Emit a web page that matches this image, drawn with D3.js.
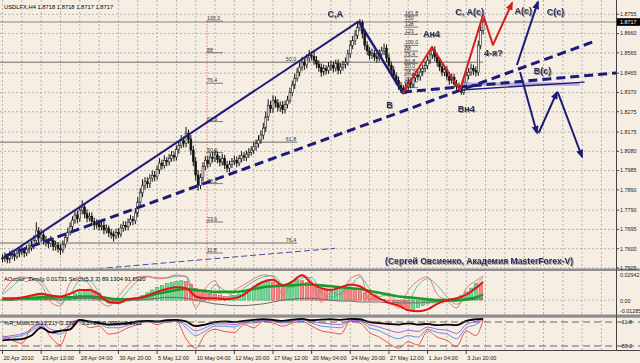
<!DOCTYPE html>
<html>
<head>
<meta charset="utf-8">
<style>
body{margin:0;background:#f6eee2;}
svg{display:block;font-family:"Liberation Sans",Arial,sans-serif;}
</style>
</head>
<body>
<script src="https://cdn.jsdelivr.net/npm/d3@7"></script>
<script>
var width = 640, height = 363;

// USDLFX H4 bars, 20 Apr 2010 20:00 .. 4 Jun 2010 20:00
var open = [
 1.7550,1.7554,1.7560,1.7548,1.7566,1.7571,1.7562,1.7578,1.7584,1.7590,
 1.7579,1.7598,1.7603,1.7615,1.7640,1.7688,1.7653,1.7668,1.7642,1.7633,
 1.7625,1.7640,1.7612,1.7618,1.7601,1.7594,1.7622,1.7655,1.7682,1.7710,
 1.7741,1.7766,1.7748,1.7790,1.7805,1.7772,1.7751,1.7760,1.7735,1.7717,
 1.7726,1.7708,1.7715,1.7692,1.7700,1.7678,1.7670,1.7662,1.7681,1.7672,
 1.7702,1.7715,1.7708,1.7731,1.7745,1.7738,1.7776,1.7830,1.7875,1.7913,
 1.7930,1.7920,1.7948,1.7962,1.7955,1.7990,1.8022,1.8010,1.8035,1.8028,
 1.8046,1.8060,1.8052,1.8088,1.8110,1.8132,1.8120,1.8169,1.8140,1.8086,
 1.8030,1.7963,1.7913,1.7950,1.8005,1.8036,1.8020,1.8051,1.8046,1.8062,
 1.8040,1.8027,1.8045,1.8012,1.7997,1.8015,1.8030,1.8036,1.8022,1.8044,
 1.8058,1.8051,1.8066,1.8074,1.8086,1.8102,1.8118,1.8135,1.8160,1.8194,
 1.8250,1.8307,1.8290,1.8332,1.8318,1.8296,1.8307,1.8285,1.8310,1.8332,
 1.8370,1.8406,1.8440,1.8470,1.8495,1.8519,1.8505,1.8540,1.8553,1.8548,
 1.8529,1.8510,1.8492,1.8470,1.8488,1.8478,1.8496,1.8504,1.8490,1.8512,
 1.8480,1.8495,1.8508,1.8519,1.8560,1.8602,1.8625,1.8652,1.8690,1.8716,
 1.8660,1.8602,1.8575,1.8553,1.8562,1.8545,1.8538,1.8560,1.8575,1.8588,
 1.8540,1.8504,1.8480,1.8452,1.8430,1.8405,1.8391,1.8366,1.8398,1.8420,
 1.8410,1.8442,1.8455,1.8448,1.8470,1.8489,1.8502,1.8529,1.8555,1.8578,
 1.8545,1.8519,1.8496,1.8470,1.8482,1.8450,1.8430,1.8445,1.8412,1.8400,
 1.8391,1.8371,1.8420,1.8455,1.8470,1.8489,1.8478,1.8470,1.8602,1.8676];
var high = [
 1.7572,1.7582,1.7574,1.7590,1.7594,1.7586,1.7601,1.7604,1.7613,1.7605,
 1.7618,1.7624,1.7641,1.7666,1.7730,1.7707,1.7696,1.7683,1.7663,1.7652,
 1.7663,1.7655,1.7639,1.7633,1.7623,1.7641,1.7678,1.7703,1.7731,1.7760,
 1.7793,1.7787,1.7809,1.7838,1.7822,1.7794,1.7779,1.7779,1.7753,1.7745,
 1.7744,1.7733,1.7734,1.7720,1.7715,1.7698,1.7688,1.7699,1.7702,1.7721,
 1.7736,1.7735,1.7750,1.7766,1.7761,1.7801,1.7854,1.7898,1.7942,1.7953,
 1.7952,1.7967,1.7985,1.7983,1.8009,1.8046,1.8039,1.8060,1.8051,1.8067,
 1.8081,1.8080,1.8108,1.8131,1.8160,1.8153,1.8200,1.8187,1.8160,1.8108,
 1.8051,1.7988,1.7970,1.8026,1.8056,1.8059,1.8070,1.8075,1.8087,1.8080,
 1.8057,1.8067,1.8062,1.8033,1.8034,1.8047,1.8059,1.8054,1.8062,1.8080,
 1.8076,1.8084,1.8096,1.8105,1.8124,1.8138,1.8159,1.8183,1.8220,1.8276,
 1.8336,1.8329,1.8356,1.8351,1.8338,1.8326,1.8328,1.8330,1.8353,1.8393,
 1.8427,1.8463,1.8491,1.8517,1.8545,1.8538,1.8559,1.8580,1.8573,1.8571,
 1.8549,1.8528,1.8513,1.8508,1.8504,1.8519,1.8526,1.8523,1.8531,1.8533,
 1.8515,1.8526,1.8542,1.8581,1.8627,1.8648,1.8677,1.8713,1.8732,1.8727,
 1.8682,1.8623,1.8594,1.8586,1.8579,1.8564,1.8583,1.8595,1.8611,1.8606,
 1.8560,1.8522,1.8499,1.8469,1.8448,1.8422,1.8405,1.8417,1.8441,1.8437,
 1.8463,1.8475,1.8476,1.8490,1.8507,1.8524,1.8549,1.8575,1.8598,1.8597,
 1.8563,1.8539,1.8513,1.8503,1.8500,1.8471,1.8463,1.8462,1.8432,1.8418,
 1.8406,1.8440,1.8476,1.8490,1.8512,1.8507,1.8499,1.8626,1.8700,1.8734];
var low = [
 1.7532,1.7535,1.7528,1.7529,1.7548,1.7540,1.7549,1.7558,1.7567,1.7557,
 1.7563,1.7577,1.7588,1.7598,1.7625,1.7627,1.7633,1.7620,1.7611,1.7603,
 1.7608,1.7590,1.7591,1.7581,1.7569,1.7579,1.7605,1.7635,1.7666,1.7690,
 1.7723,1.7725,1.7732,1.7769,1.7750,1.7730,1.7734,1.7715,1.7693,1.7699,
 1.7688,1.7691,1.7671,1.7675,1.7657,1.7649,1.7635,1.7647,1.7652,1.7657,
 1.7683,1.7689,1.7691,1.7715,1.7716,1.7721,1.7757,1.7807,1.7854,1.7891,
 1.7898,1.7900,1.7930,1.7932,1.7939,1.7969,1.7989,1.7995,1.8006,1.8010,
 1.8029,1.8030,1.8035,1.8068,1.8094,1.8099,1.8100,1.8118,1.8062,1.8007,
 1.7937,1.7886,1.7894,1.7931,1.7987,1.7997,1.8004,1.8025,1.8027,1.8021,
 1.8006,1.8010,1.7992,1.7976,1.7977,1.7998,1.8012,1.8001,1.8007,1.8026,
 1.8032,1.8032,1.8047,1.8058,1.8066,1.8083,1.8098,1.8117,1.8139,1.8175,
 1.8230,1.8269,1.8270,1.8296,1.8276,1.8274,1.8264,1.8267,1.8292,1.8316,
 1.8352,1.8387,1.8423,1.8449,1.8476,1.8481,1.8488,1.8521,1.8528,1.8506,
 1.8489,1.8472,1.8447,1.8453,1.8458,1.8462,1.8476,1.8468,1.8473,1.8459,
 1.8462,1.8478,1.8488,1.8502,1.8540,1.8583,1.8604,1.8634,1.8672,1.8636,
 1.8580,1.8554,1.8532,1.8535,1.8525,1.8516,1.8522,1.8541,1.8554,1.8519,
 1.8484,1.8458,1.8432,1.8409,1.8383,1.8368,1.8360,1.8362,1.8380,1.8390,
 1.8393,1.8423,1.8429,1.8428,1.8452,1.8470,1.8485,1.8510,1.8535,1.8524,
 1.8498,1.8475,1.8450,1.8450,1.8430,1.8408,1.8413,1.8392,1.8381,1.8372,
 1.8358,1.8358,1.8402,1.8434,1.8451,1.8455,1.8449,1.8452,1.8583,1.8656];
var close = [
 1.7554,1.7560,1.7548,1.7566,1.7571,1.7562,1.7578,1.7584,1.7590,1.7579,
 1.7598,1.7603,1.7615,1.7640,1.7688,1.7653,1.7668,1.7642,1.7633,1.7625,
 1.7640,1.7612,1.7618,1.7601,1.7594,1.7622,1.7655,1.7682,1.7710,1.7741,
 1.7766,1.7748,1.7790,1.7805,1.7772,1.7751,1.7760,1.7735,1.7717,1.7726,
 1.7708,1.7715,1.7692,1.7700,1.7678,1.7670,1.7662,1.7681,1.7672,1.7702,
 1.7715,1.7708,1.7731,1.7745,1.7738,1.7776,1.7830,1.7875,1.7913,1.7930,
 1.7920,1.7948,1.7962,1.7955,1.7990,1.8022,1.8010,1.8035,1.8028,1.8046,
 1.8060,1.8052,1.8088,1.8110,1.8132,1.8120,1.8169,1.8140,1.8086,1.8030,
 1.7963,1.7913,1.7950,1.8005,1.8036,1.8020,1.8051,1.8046,1.8062,1.8040,
 1.8027,1.8045,1.8012,1.7997,1.8015,1.8030,1.8036,1.8022,1.8044,1.8058,
 1.8051,1.8066,1.8074,1.8086,1.8102,1.8118,1.8135,1.8160,1.8194,1.8250,
 1.8307,1.8290,1.8332,1.8318,1.8296,1.8307,1.8285,1.8310,1.8332,1.8370,
 1.8406,1.8440,1.8470,1.8495,1.8519,1.8505,1.8540,1.8553,1.8548,1.8529,
 1.8510,1.8492,1.8470,1.8488,1.8478,1.8496,1.8504,1.8490,1.8512,1.8480,
 1.8495,1.8508,1.8519,1.8560,1.8602,1.8625,1.8652,1.8690,1.8716,1.8660,
 1.8602,1.8575,1.8553,1.8562,1.8545,1.8538,1.8560,1.8575,1.8588,1.8540,
 1.8504,1.8480,1.8452,1.8430,1.8405,1.8391,1.8366,1.8398,1.8420,1.8410,
 1.8442,1.8455,1.8448,1.8470,1.8489,1.8502,1.8529,1.8555,1.8578,1.8545,
 1.8519,1.8496,1.8470,1.8482,1.8450,1.8430,1.8445,1.8412,1.8400,1.8391,
 1.8371,1.8420,1.8455,1.8470,1.8489,1.8478,1.8470,1.8602,1.8676,1.8717];

var bid = 1.8717;
var priceTicks = [1.8755,1.8660,1.8565,1.8465,1.8370,1.8275,1.8175,1.8080,1.7985,1.7890,1.7790,1.7695,1.7600,1.7505];
var timeLabels = ["20 Apr 2010","23 Apr 12:00","28 Apr 04:00","30 Apr 20:00","5 May 12:00","10 May 04:00",
  "12 May 20:00","17 May 12:00","20 May 04:00","24 May 20:00","27 May 12:00","1 Jun 04:00","3 Jun 20:00"];

// fibonacci objects
var fibA = {hi:1.8721, lo:1.7426, bar:84.7, levels:[100,88,76.4,61.8,50,38.2,23.6,11.8],
  names:["100.0","88","76.4","61.8","50.0","38.2","23.6","11.8"]};
var fibB = {hi:1.8602, lo:1.8366, bar:166.7, levels:[161.8,150,138,123,100,88,76.4,61.8,50,38.2,23.6,11.8],
  names:["161.8","150","138","123","100.0","88","76.4","61.8","50.0","38.2","23.6","11.8"]};
var fibCPrices = [1.8519,1.8125,1.7628];
var fibCNames = ["50.0","61.8","76.4"];
var fibCEnds = [199,122,122];

// hand drawn wave marks, [bar, price]
var channelTop = [[0,1.7552],[147.5,1.8720]];
var legCB = [[147.5,1.8720],[165.8,1.8366]];
var dashMain = [[1,1.7564],[244.5,1.8619]];
var dashB = [[165.8,1.8372],[259,1.8471]];
var thinB = [[189.8,1.8382],[241,1.8421]];
var bandB = [[190.7,1.8411],[239,1.8411]];
var dashLow = [[32,1.7494],[137.7,1.7602]];
var redWave = [[165.8,1.8367],[177.8,1.8594],[189.4,1.8382],[199,1.8752],[203.1,1.8604],[211,1.8811]];
var upAc = [[213,1.8505],[221.7,1.8816]];
var downPath = [[214.3,1.8471],[221.3,1.8170]];
var downPath2 = [[222,1.8170],[229.6,1.8372]];
var downPath3 = [[229.9,1.8372],[240,1.8052]];
var waveLabels = [
  {t:"C,A", i:137.8, p:1.8742}, {t:"B", i:160.2, p:1.8292}, {t:"Ан4", i:177.6, p:1.8643},
  {t:"C, A(c)", i:193.4, p:1.8752}, {t:"A(c)", i:215.6, p:1.8756}, {t:"C(c)", i:229, p:1.8752},
  {t:"4-я?", i:203.3, p:1.8550}, {t:"B(c)", i:223.6, p:1.8461}, {t:"Вн4", i:192, p:1.8273}];
var credit = {t:"(Сергей Овсиенко, Академия MasterForex-V)", i:158.4, p:1.7523};

// AOcolor_Zerolag histogram, one value per two bars
var aoHist = [
 0.001,0.0015,0.002,0.002,0.0015,0.002, 0.004,0.006,0.007,0.005, 0.003,0.0015,0.0005,0.001,
 0.004,0.007,0.009,0.011,0.012,0.010, 0.007,0.004,0.001, -0.002,-0.003,-0.002,-0.001,
 0.000,0.002,0.005, 0.008,0.011,0.014,0.016,0.018,0.019,0.020,0.021,0.020,0.017,
 0.013,0.010,0.008,0.007, 0.006,0.005,0.004,0.004,0.005,0.006,
 0.009,0.012,0.015,0.018,0.020,0.022, 0.019,0.017,0.016,0.018,0.020,0.022,
 0.021,0.019,0.016,0.014,0.012, 0.011,0.012,0.013,0.015,0.014,0.013,0.012,
 0.010,0.008,0.006,0.004,0.002,0.001, -0.001,-0.003,-0.006,-0.009,-0.011,-0.010,-0.008,-0.006,
 -0.004,-0.003,-0.002,-0.003,-0.002,-0.001, 0.002,0.005,0.009,0.013,0.018,0.0173];
// oscillator lines, one value per four bars
var aoFast = [0.002,0.002,0.003,0.005,0.007,0.005,0.004,0.007,0.011,0.011,0.006,-0.002,-0.003,0.001,0.002,
 0.005,0.009,0.012,0.014,0.013,0.004,0.002,0.002,0.001,0.002,0.006,0.014,0.020,0.022,0.016,0.020,0.027,
 0.018,0.013,0.011,0.014,0.017,0.015,0.008,0.002,-0.003,-0.006,-0.011,-0.012,-0.010,-0.004,0.000,0.002,
 0.006,0.013,0.020];
var aoSlow = [0.001,0.001,0.002,0.002,0.003,0.003,0.003,0.003,0.004,0.004,0.003,0.002,0.001,0.001,0.002,
 0.004,0.007,0.009,0.011,0.012,0.011,0.010,0.009,0.009,0.009,0.010,0.012,0.014,0.015,0.016,0.016,0.017,
 0.017,0.016,0.015,0.014,0.013,0.012,0.010,0.008,0.006,0.004,0.003,0.002,0.001,0.000,0.000,0.000,
 0.001,0.003,0.006];
var aoBase = [0.000,0.000,0.001,0.001,0.001,0.001,0.000,0.001,0.002,0.002,0.001,-0.001,-0.001,0.000,0.000,
 0.001,0.002,0.003,0.003,0.002,0.000,-0.002,-0.004,-0.005,-0.006,-0.006,-0.005,-0.004,-0.002,0.000,0.001,
 0.002,0.002,0.001,0.000,-0.001,-0.001,-0.002,-0.002,-0.002,-0.003,-0.003,-0.003,-0.003,-0.002,-0.002,
 -0.001,-0.001,0.000,0.001,0.002];
var stochMain = [50,80,90,85,70,25,15,75,90,70,30,15,40,70,90,92,85,88,95,90,10,60,80,30,55,70,85,95,92,45,
 80,95,80,25,50,45,85,95,30,50,40,10,55,80,90,45,30,10,60,80,92];
var stochSig = [45,65,85,88,78,45,22,45,80,80,50,22,28,55,80,90,88,87,92,92,40,30,70,55,40,62,78,90,93,70,
 62,88,88,50,38,48,65,90,60,40,45,25,30,68,85,68,40,20,35,70,88];
// %R multi lines
var wprSlow = [-70,-68,-66,-55,-30,-45,-40,-35,-5,-10,-15,-20,-18,-15,-10,-8,-10,-6,-5,-10,-25,-20,-12,-10,-12,
 -8,-5,-3,-5,-8,-4,-2,-6,-4,-3,-5,-2,-3,-12,-15,-18,-20,-16,-20,-18,-22,-20,-22,-8,-3,-2];
var wprMid = [-60,-55,-50,-35,-15,-35,-40,-20,-5,-10,-12,-22,-22,-18,-12,-8,-10,-8,-6,-20,-40,-30,-18,-18,-20,
 -12,-10,-5,-8,-12,-8,-4,-10,-15,-18,-20,-6,-8,-20,-28,-38,-45,-38,-42,-28,-35,-38,-48,-20,-10,-2];
var wprBlue = [-65,-60,-55,-40,-25,-45,-50,-25,-8,-15,-18,-30,-30,-22,-15,-10,-14,-10,-8,-30,-55,-40,-25,-25,-28,
 -15,-15,-8,-10,-15,-10,-6,-15,-25,-28,-30,-8,-10,-30,-40,-55,-65,-55,-60,-35,-45,-50,-65,-30,-20,-3];
var wprFast = [-55,-70,-80,-30,-20,-60,-85,-15,-5,-30,-25,-50,-45,-30,-20,-10,-20,-12,-10,-65,-95,-50,-35,-42,-45,
 -20,-30,-10,-15,-25,-15,-10,-25,-40,-45,-50,-10,-15,-45,-60,-80,-95,-75,-85,-40,-60,-70,-90,-40,-55,-5];
var wprLevels = [-11.8,-88.2];
var oscTicks = [0.02942,0.00,-0.01285];

// ---------------------------------------------------------------
var bg = "#f6eee2", navy = "#1c1c78", gridCol = "#a3a3a3";
var plotRight = 616;

var x = d3.scaleLinear().domain([0,199]).range([2.5,483.1]);
var y = d3.scaleLinear().domain([1.7505,1.8755]).range([268,14.3]);
var yAo = d3.scaleLinear().domain([-0.01285,0.02942]).range([312,273]);
var ySt = d3.scaleLinear().domain([0,100]).range([312,273]);
var yR = d3.scaleLinear().domain([-100,0]).range([349.7,318.3]);

var svg = d3.select("body").append("svg").attr("width",width).attr("height",height);
var defs = svg.append("defs");
defs.append("clipPath").attr("id","cm").append("rect").attr("x",0).attr("y",0).attr("width",plotRight).attr("height",268.5);
defs.append("clipPath").attr("id","c1").append("rect").attr("x",0).attr("y",271).attr("width",plotRight).attr("height",43.5);
defs.append("clipPath").attr("id","c2").append("rect").attr("x",0).attr("y",318).attr("width",plotRight).attr("height",32);
var f = defs.append("filter").attr("id","sh").attr("x","-20%").attr("y","-40%").attr("width","140%").attr("height","180%");
f.append("feDropShadow").attr("dx",1).attr("dy",1).attr("stdDeviation",0.7).attr("flood-color","#8c8c8c").attr("flood-opacity",0.9);
function marker(id,col){
  defs.append("marker").attr("id",id).attr("viewBox","0 0 10 8").attr("refX",8).attr("refY",4)
    .attr("markerWidth",9).attr("markerHeight",7).attr("markerUnits","userSpaceOnUse").attr("orient","auto")
    .append("path").attr("d","M0,0L10,4L0,8z").attr("fill",col);
}
marker("an",navy); marker("ar","#d41f1f");

svg.append("rect").attr("width",width).attr("height",height).attr("fill",bg);

var main = svg.append("g").attr("clip-path","url(#cm)");
var p1 = svg.append("g").attr("clip-path","url(#c1)");
var p2 = svg.append("g").attr("clip-path","url(#c2)");

// grid
var gridBars = d3.range(0,260,8);
[main,p1,p2].forEach(function(g){
  g.selectAll(".vg").data(gridBars).enter().append("line")
    .attr("x1",d=>x(d)).attr("x2",d=>x(d)).attr("y1",0).attr("y2",height)
    .attr("stroke",gridCol).attr("stroke-width",0.8).attr("stroke-dasharray","2,2");
});
main.selectAll(".hg").data(priceTicks).enter().append("line")
  .attr("x1",0).attr("x2",plotRight).attr("y1",d=>y(d)).attr("y2",d=>y(d))
  .attr("stroke",gridCol).attr("stroke-width",0.8).attr("stroke-dasharray","2,2");

// fibonacci objects
fibCPrices.forEach(function(p,k){
  main.append("line").attr("x1",0).attr("x2",x(fibCEnds[k])).attr("y1",y(p)).attr("y2",y(p))
    .attr("stroke","#5a5a5a").attr("stroke-width",0.9);
  main.append("text").attr("x",x(121.6)).attr("y",y(p)-1.5).attr("text-anchor","end")
    .attr("font-size",5.4).attr("fill","#333").text(fibCNames[k]);
});
function drawFib(fb,len){
  var lp = function(l){return fb.lo+(fb.hi-fb.lo)*l/100;};
  main.append("line").attr("x1",x(fb.bar)).attr("x2",x(fb.bar))
    .attr("y1",y(fb.hi)).attr("y2",y(fb.lo))
    .attr("stroke","#e05050").attr("stroke-width",0.8).attr("stroke-dasharray","1.5,1.5");
  fb.levels.forEach(function(l,k){
    main.append("line").attr("x1",x(fb.bar)-1).attr("x2",x(fb.bar+len)).attr("y1",y(lp(l))).attr("y2",y(lp(l)))
      .attr("stroke","#444").attr("stroke-width",0.7);
    main.append("text").attr("x",x(fb.bar)).attr("y",y(lp(l))-1).attr("font-size",5.2)
      .attr("fill","#333").text(fb.names[k]);
  });
}
drawFib(fibA,6.6);
drawFib(fibB,5.4);

// bid line
main.append("line").attr("x1",0).attr("x2",plotRight).attr("y1",y(bid)).attr("y2",y(bid))
  .attr("stroke","#7a7a7a").attr("stroke-width",0.9);

// candles
var bars = close.map(function(c,i){return {i:i,o:open[i],h:high[i],l:low[i],c:c};});
main.selectAll(".wk").data(bars).enter().append("line")
  .attr("x1",d=>x(d.i)).attr("x2",d=>x(d.i)).attr("y1",d=>y(d.h)).attr("y2",d=>y(d.l))
  .attr("stroke","#111").attr("stroke-width",1);
main.selectAll(".bd").data(bars).enter().append("rect")
  .attr("x",d=>x(d.i)-0.95).attr("width",1.9)
  .attr("y",d=>y(Math.max(d.o,d.c))).attr("height",d=>Math.max(0.8,Math.abs(y(d.o)-y(d.c))))
  .attr("fill",d=>d.c>=d.o?"#f4f4f4":"#111").attr("stroke","#111").attr("stroke-width",0.55);

// wave marks
var ln = d3.line().x(d=>x(d[0])).y(d=>y(d[1]));
function mark(pts,col,w,dash,arrow,op){
  var p = main.append("path").attr("d",ln(pts)).attr("fill","none").attr("stroke",col)
    .attr("stroke-width",w).attr("stroke-linejoin","round");
  if(dash) p.attr("stroke-dasharray",dash);
  if(arrow) p.attr("marker-end","url(#"+arrow+")");
  if(op) p.attr("opacity",op);
}
mark(dashLow,"#4a4aa0",1,"6,3");
mark(bandB,"#a99be0",3.2,null,null,0.85);
mark(thinB,navy,1.3);
mark(dashMain,navy,3,"9,5");
mark(dashB,navy,3,"9,5");
mark(channelTop,navy,2);
mark(legCB,navy,2.4);
mark(redWave,"#d41f1f",2,null,"ar");
mark(upAc,navy,2,null,"an");
mark(downPath,navy,2,null,"an");
mark(downPath2,navy,2,null,"an");
mark(downPath3,navy,2,null,"an");

main.selectAll(".wl").data(waveLabels).enter().append("text")
  .attr("x",d=>x(d.i)).attr("y",d=>y(d.p)).attr("text-anchor","middle")
  .attr("font-size",9).attr("font-weight","bold").attr("fill","#2a3352").attr("filter","url(#sh)")
  .text(d=>d.t);
main.append("text").attr("x",x(credit.i)).attr("y",y(credit.p)).attr("font-size",8.6)
  .attr("font-weight","bold").attr("fill","#1f2a5c").attr("filter","url(#sh)").text(credit.t);

main.append("text").attr("x",4).attr("y",9).attr("font-size",5.8).attr("fill","#000")
  .text("USDLFX,H4  1.8718 1.8718 1.8717 1.8717");

// panel 1: AOcolor_Zerolag + Stoch
var oscIdx = d3.range(0,200,4).concat([199]);
p1.append("line").attr("x1",0).attr("x2",plotRight).attr("y1",yAo(0)).attr("y2",yAo(0))
  .attr("stroke",gridCol).attr("stroke-width",0.8).attr("stroke-dasharray","2,2");
p1.selectAll(".ao").data(aoHist).enter().append("rect")
  .attr("x",(d,k)=>x(2*k)-1.6).attr("width",3.4)
  .attr("y",d=>Math.min(yAo(d),yAo(0))).attr("height",d=>Math.abs(yAo(d)-yAo(0)))
  .attr("fill",(d,k)=>k>0&&d<aoHist[k-1]?"#f28a8a":"#6fd69a")
  .attr("stroke",(d,k)=>k>0&&d<aoHist[k-1]?"#d83a3a":"#2aa55a").attr("stroke-width",0.5);
function oscLine(g,vals,sc,col,w){
  g.append("path").attr("d",d3.line().curve(d3.curveMonotoneX).x((d,k)=>x(oscIdx[k])).y(d=>sc(d))(vals))
    .attr("fill","none").attr("stroke",col).attr("stroke-width",w);
}
oscLine(p1,aoBase,yAo,"#6a6a6a",1);
oscLine(p1,stochSig,ySt,"#3db5a5",0.9);
oscLine(p1,stochMain,ySt,"#e86a6a",0.9);
oscLine(p1,aoSlow,yAo,"#1c9a2a",2.6);
oscLine(p1,aoFast,yAo,"#e31414",2);
p1.append("text").attr("x",4).attr("y",281).attr("font-size",5.8).attr("fill","#000")
  .text("AOcolor_Zerolg 0.01731   Stoch(5,3,3) 89.1304 91.6920");

// panel 2: %R multi
wprLevels.forEach(function(v){
  svg.append("line").attr("x1",0).attr("x2",width).attr("y1",yR(v)).attr("y2",yR(v))
    .attr("stroke","#555").attr("stroke-width",0.9).attr("stroke-dasharray","7,4");
});
oscLine(p2,wprFast,yR,"#ea4040",0.9);
oscLine(p2,wprBlue,yR,"#4a86e8",0.9);
oscLine(p2,wprMid,yR,"#9a4ee0",0.9);
oscLine(p2,wprSlow,yR,"#000",1.8);
p2.append("text").attr("x",4).attr("y",325).attr("font-size",5.8).attr("fill","#000")
  .text("%R_Multi(5,8,13,21) -2.2727 -2.2727 -0.0000 -2.9412");

// separators and borders
svg.append("rect").attr("x",0).attr("y",268.5).attr("width",width).attr("height",2.5).attr("fill","#8d8d8d");
svg.append("rect").attr("x",0).attr("y",314.5).attr("width",width).attr("height",3.2).attr("fill","#8d8d8d");
svg.append("line").attr("x1",0).attr("x2",width).attr("y1",350.5).attr("y2",350.5).attr("stroke","#444");
svg.append("line").attr("x1",plotRight+0.5).attr("x2",plotRight+0.5).attr("y1",0).attr("y2",351).attr("stroke","#444");

// price axis
var ax = svg.append("g");
ax.selectAll(".pt").data(priceTicks).enter().append("line")
  .attr("x1",plotRight).attr("x2",plotRight+3).attr("y1",d=>y(d)).attr("y2",d=>y(d)).attr("stroke","#444");
ax.selectAll(".pl").data(priceTicks).enter().append("text")
  .attr("x",plotRight+4).attr("y",d=>y(d)).attr("dy","0.35em").attr("font-size",5.4).attr("fill","#222")
  .text(d=>d.toFixed(4));
ax.append("rect").attr("x",plotRight+1).attr("y",y(bid)-3.8).attr("width",23).attr("height",7.6).attr("fill","#000");
ax.append("text").attr("x",plotRight+4).attr("y",y(bid)).attr("dy","0.35em").attr("font-size",5.4)
  .attr("fill","#fff").text(bid.toFixed(4));
ax.selectAll(".ol").data(oscTicks).enter().append("text")
  .attr("x",plotRight+4).attr("y",(d,k)=>yAo(d)+(k==0?2:k==1?1:-1)).attr("dy","0.35em").attr("font-size",5.4)
  .attr("fill","#222").text(d=>d==0?"0.00":d.toFixed(5));
ax.selectAll(".rl").data(wprLevels).enter().append("text")
  .attr("x",plotRight+4).attr("y",d=>yR(d)).attr("dy","0.35em").attr("font-size",5.4)
  .attr("fill","#222").text(d=>d.toFixed(1));

// time axis
var tIdx = timeLabels.map((t,k)=>16*k);
svg.selectAll(".tt").data(tIdx).enter().append("line")
  .attr("x1",d=>x(d)).attr("x2",d=>x(d)).attr("y1",351).attr("y2",354).attr("stroke","#444");
svg.selectAll(".tl").data(timeLabels).enter().append("text")
  .attr("x",(d,k)=>x(tIdx[k])+1).attr("y",360).attr("font-size",5.6).attr("fill","#222").text(d=>d);
</script>
</body>
</html>
